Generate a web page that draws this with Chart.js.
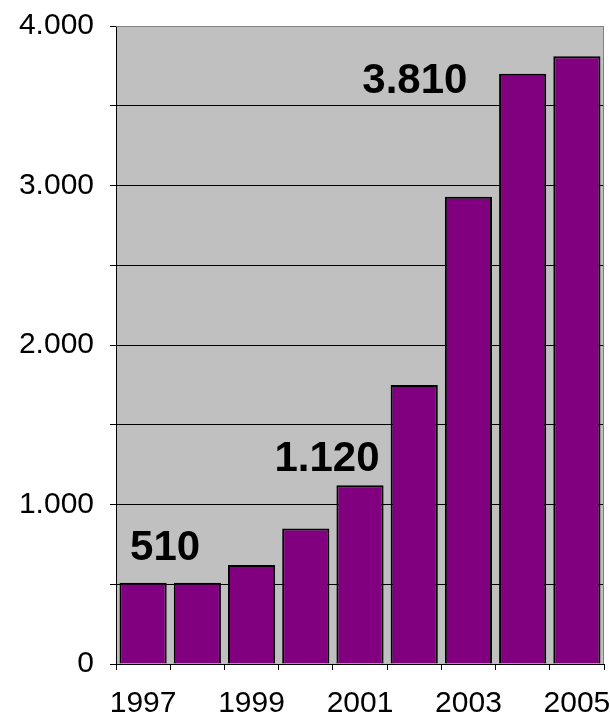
<!DOCTYPE html>
<html>
<head>
<meta charset="utf-8">
<script src="https://cdn.jsdelivr.net/npm/chart.js@4/dist/chart.umd.min.js"></script>
<style>
html,body{margin:0;padding:0;background:#fff;}
#wrap{width:610px;height:720px;}
</style>
</head>
<body>
<div id="wrap"><canvas id="c" width="610" height="720"></canvas></div>
<script>
const years = ['1997','1998','1999','2000','2001','2002','2003','2004','2005'];
const values = [510, 510, 620, 850, 1120, 1750, 2930, 3700, 3810];
const shownYearLabels = ['1997','1999','2001','2003','2005'];
const labelledIndices = [0, 4, 8];

function fmt(v){ return String(v).replace(/\B(?=(\d{3})+(?!\d))/g, '.'); }

const FONT = "'Liberation Sans', Arial, sans-serif";

const plotBg = {
  id: 'plotBg',
  beforeDraw(chart){
    const {ctx, chartArea:a} = chart;
    ctx.save();
    ctx.fillStyle = '#ffffff';
    ctx.fillRect(0,0,chart.width,chart.height);
    ctx.fillStyle = '#c0c0c0';
    ctx.fillRect(a.left, a.top, a.right-a.left, a.bottom-a.top);
    ctx.restore();
  },
  afterDatasetsDraw(chart){
    const {ctx, chartArea:a} = chart;
    ctx.save();
    ctx.strokeStyle = '#808080';
    ctx.lineWidth = 1;
    ctx.beginPath();
    ctx.moveTo(a.left, a.top+0.5);
    ctx.lineTo(a.right-0.5, a.top+0.5);
    ctx.lineTo(a.right-0.5, a.bottom);
    ctx.stroke();
    ctx.restore();
  }
};

const labelOffsets = {0:[22,-34], 4:[-33,-26], 8:[-162,25]};
const valueLabels = {
  id: 'valueLabels',
  afterDatasetsDraw(chart){
    const {ctx} = chart;
    const xs = chart.scales.x, ys = chart.scales.y;
    ctx.save();
    ctx.font = "bold 42px " + FONT;
    ctx.fillStyle = '#000';
    ctx.textAlign = 'center';
    ctx.textBaseline = 'middle';
    labelledIndices.forEach(i => {
      const off = labelOffsets[i];
      const x = xs.getPixelForValue(i) + off[0];
      const y = ys.getPixelForValue(values[i]) + off[1];
      ctx.fillText(fmt(values[i]), x, y);
    });
    ctx.restore();
  }
};

new Chart(document.getElementById('c'), {
  type: 'bar',
  data: {
    labels: years,
    datasets: [{
      data: values,
      backgroundColor: '#800080',
      borderColor: '#000000',
      borderWidth: 2,
      barPercentage: 0.87,
      categoryPercentage: 1.0
    }]
  },
  options: {
    responsive: false,
    animation: false,
    devicePixelRatio: 1,
    layout: { padding: { top: 26, right: 6, left: 0, bottom: 0 } },
    plugins: { legend: { display: false }, tooltip: { enabled: false } },
    scales: {
      x: {
        offset: true,
        afterFit(s){ s.height = 56; s.paddingLeft = 0; s.paddingRight = 0; },
        grid: { display: true, drawOnChartArea: false, drawTicks: true, tickLength: 6, color: '#000', lineWidth: 1, offset: true },
        border: { display: true, color: '#000', width: 1 },
        ticks: {
          autoSkip: false, maxRotation: 0, minRotation: 0, padding: 16,
          color: '#000', font: { family: FONT, size: 30 },
          callback(v, i){ const l = years[i]; return shownYearLabels.includes(l) ? l : ''; }
        }
      },
      y: {
        min: 0, max: 4000,
        afterFit(s){ s.width = 116; s.paddingTop = 0; s.paddingBottom = 0; },
        grid: {
          color(ctx){ return ctx.tick && ctx.tick.value === 4000 ? '#808080' : '#000'; },
          lineWidth: 1, drawTicks: true, tickLength: 6, tickColor: '#000'
        },
        border: { display: true, color: '#000', width: 1 },
        ticks: {
          stepSize: 500, padding: 16, color: '#000',
          font: { family: FONT, size: 30 },
          callback(v){ return v % 1000 === 0 ? fmt(v) : ''; }
        }
      }
    }
  },
  plugins: [plotBg, valueLabels]
});
</script>
</body>
</html>
